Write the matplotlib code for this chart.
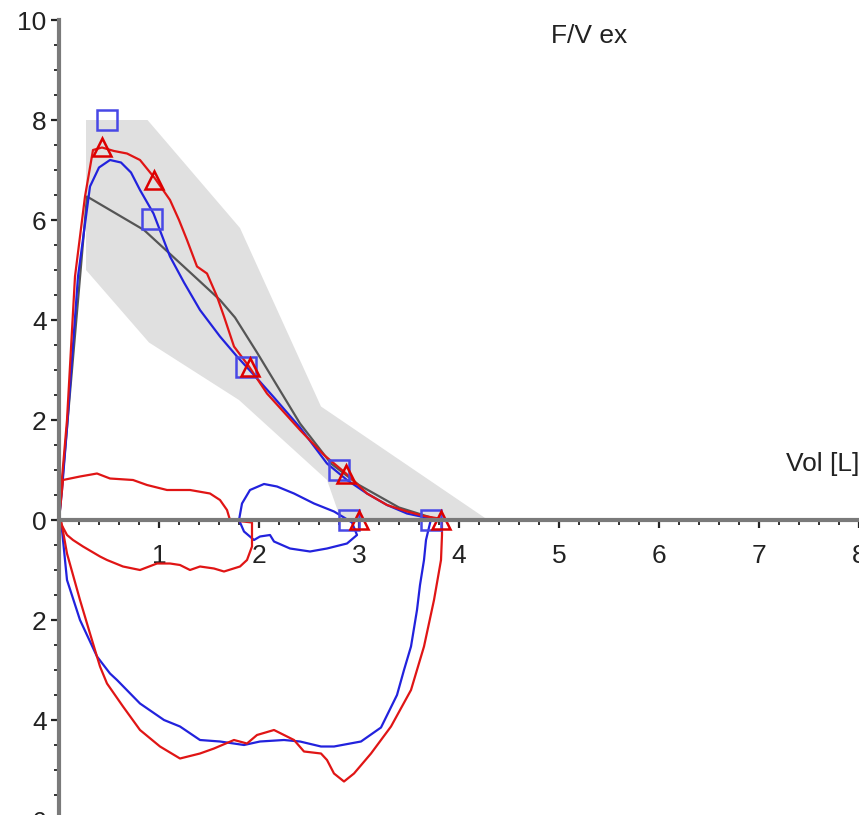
import numpy as np
import matplotlib
matplotlib.use('Agg')
import matplotlib.pyplot as plt
from matplotlib.ticker import MultipleLocator, FuncFormatter

plt.rcParams['font.family'] = ['Liberation Sans', 'DejaVu Sans']

# Banda de valores normales (borde superior e inferior)
banda_sup_x = [0.27, 0.27, 0.885, 1.81, 2.62, 4.29]
banda_sup_y = [5.0, 8.0, 8.0, 5.84, 2.27, 0.0]
banda_inf_x = [0.27, 0.9, 1.8, 2.68, 2.82]
banda_inf_y = [5.0, 3.55, 2.4, 0.8, 0.0]

# Curva predicha
pred_x = [0, 0.28, 0.85, 1.41, 1.61, 1.76, 1.98, 2.41, 2.72, 3.0, 3.4, 3.8]
pred_y = [0, 6.47, 5.8, 4.77, 4.4, 4.05, 3.35, 1.93, 1.13, 0.7, 0.25, 0.0]

# Curva azul (espiración + inspiración)
azul_x = [0, 0.03, 0.08, 0.19, 0.31, 0.40, 0.51, 0.62, 0.72, 0.81, 0.945, 1.11, 1.25, 1.41,
          1.61, 1.78, 1.95, 2.15, 2.41, 2.68, 2.88, 3.08, 3.28, 3.48, 3.62, 3.72,
          3.67, 3.65, 3.61, 3.58, 3.52, 3.45, 3.38, 3.22, 3.02, 2.75, 2.62, 2.41, 2.25,
          2.01, 1.85, 1.61, 1.41, 1.21, 1.05, 0.81, 0.58, 0.51, 0.38, 0.21, 0.08, 0.03, 0]
azul_y = [0, 0.6, 1.84, 4.87, 6.67, 7.05, 7.2, 7.15, 6.95, 6.6, 6.13, 5.27, 4.75, 4.2,
          3.67, 3.27, 2.9, 2.45, 1.85, 1.13, 0.8, 0.53, 0.3, 0.13, 0.07, 0.02,
          -0.4, -0.8, -1.3, -1.8, -2.53, -3.0, -3.5, -4.15, -4.43, -4.53, -4.53, -4.43, -4.4,
          -4.43, -4.5, -4.43, -4.4, -4.13, -4.0, -3.67, -3.2, -3.07, -2.73, -2.0, -1.2, -0.2, 0]

# Curva roja (espiración + inspiración)
rojo_x = [0, 0.02, 0.08, 0.16, 0.26, 0.34, 0.43, 0.55, 0.68, 0.81, 0.96, 1.11, 1.2, 1.28,
          1.38, 1.48, 1.58, 1.65, 1.75, 1.90, 2.08, 2.41, 2.65, 2.87, 3.08, 3.28, 3.48, 3.65, 3.83,
          3.83, 3.82, 3.75, 3.65, 3.52, 3.32, 3.12, 2.95, 2.85, 2.75, 2.68, 2.62, 2.45, 2.35,
          2.15, 1.98, 1.88, 1.75, 1.55, 1.41, 1.21, 1.01, 0.81, 0.64, 0.48, 0.41, 0.31, 0.21,
          0.08, 0.02]
rojo_y = [0, 0.6, 2.0, 4.87, 6.47, 7.4, 7.45, 7.38, 7.33, 7.2, 6.83, 6.4, 6.0, 5.6,
          5.07, 4.93, 4.47, 4.07, 3.47, 3.07, 2.53, 1.8, 1.3, 0.93, 0.53, 0.3, 0.17, 0.08, 0.02,
          -0.3, -0.8, -1.6, -2.53, -3.4, -4.13, -4.67, -5.07, -5.23, -5.07, -4.8, -4.67, -4.63, -4.4,
          -4.2, -4.3, -4.47, -4.4, -4.57, -4.67, -4.77, -4.53, -4.2, -3.73, -3.27, -2.93, -2.27, -1.6,
          -0.67, 0]

# Bucles de volumen corriente
rojo_vc_x = [0, 0.02, 0.04, 0.21, 0.38, 0.51, 0.74, 0.88, 1.08, 1.31, 1.51, 1.61, 1.68, 1.71,
             1.8, 1.93, 1.93, 1.88, 1.81, 1.65, 1.55, 1.41, 1.31, 1.21, 1.11, 0.98, 0.81,
             0.64, 0.48, 0.41, 0.24, 0.14, 0.08, 0]
rojo_vc_y = [0, 0.4, 0.8, 0.87, 0.93, 0.83, 0.8, 0.7, 0.6, 0.6, 0.53, 0.4, 0.2, 0.0,
             -0.02, -0.05, -0.53, -0.8, -0.93, -1.03, -0.97, -0.93, -1.0, -0.9, -0.87, -0.87, -1.0,
             -0.93, -0.8, -0.73, -0.53, -0.4, -0.3, 0]
azul_vc_x = [1.80, 1.83, 1.91, 2.05, 2.18, 2.35, 2.55, 2.75, 2.85, 2.93, 2.98, 2.88, 2.68,
             2.51, 2.31, 2.15, 2.11, 2.01, 1.95, 1.85, 1.80]
azul_vc_y = [0, 0.33, 0.6, 0.72, 0.67, 0.53, 0.33, 0.17, 0.05, -0.05, -0.3, -0.47, -0.57,
             -0.63, -0.57, -0.43, -0.3, -0.33, -0.4, -0.23, 0]

# Marcadores
cuad_x = [0.48, 0.93, 1.87, 2.80, 2.90, 3.72]
cuad_y = [8.0, 6.03, 3.07, 1.01, 0.0, 0.0]
tri_x = [0.43, 0.95, 1.91, 2.87, 3.0, 3.82]
tri_y = [7.47, 6.8, 3.07, 0.93, 0.0, 0.0]

AZUL = '#2222dd'
ROJO = '#e01515'

fig = plt.figure(figsize=(8.59, 8.15), dpi=100)
ax = fig.add_axes([59 / 859, -5 / 815, 800 / 859, 800 / 815])

poly_x = banda_sup_x + banda_inf_x[::-1]
poly_y = banda_sup_y + banda_inf_y[::-1]
ax.fill(poly_x, poly_y, color='#e0e0e0', lw=0, zorder=1)

ax.plot(pred_x, pred_y, color='#555555', lw=1.6, zorder=2)
ax.plot(azul_x, azul_y, color=AZUL, lw=1.6, zorder=3)
ax.plot(azul_vc_x, azul_vc_y, color=AZUL, lw=1.6, zorder=3)
ax.plot(rojo_x, rojo_y, color=ROJO, lw=1.6, zorder=3)
ax.plot(rojo_vc_x, rojo_vc_y, color=ROJO, lw=1.6, zorder=3)

ax.plot(cuad_x, cuad_y, ls='none', marker='s', ms=14.5, mfc='none', mec='#4848e6', mew=1.8, zorder=4)
ax.plot(tri_x, tri_y, ls='none', marker='^', ms=13, mfc='none', mec='#dd0000', mew=1.8, zorder=4)

ax.set_xlim(0, 8.0)
ax.set_ylim(-6, 10)

ax.spines['top'].set_visible(False)
ax.spines['right'].set_visible(False)
ax.spines['bottom'].set_position(('data', 0))
for s in ['left', 'bottom']:
    ax.spines[s].set_color('#7a7a7a')
    ax.spines[s].set_linewidth(3)
    ax.spines[s].set_zorder(5)

ax.xaxis.set_major_locator(MultipleLocator(1))
ax.xaxis.set_minor_locator(MultipleLocator(0.2))
ax.yaxis.set_major_locator(MultipleLocator(2))
ax.yaxis.set_minor_locator(MultipleLocator(0.5))

ax.xaxis.set_major_formatter(FuncFormatter(lambda v, p: '' if abs(v) < 1e-9 else f'{abs(v):.0f}'))
ax.yaxis.set_major_formatter(FuncFormatter(lambda v, p: f'{abs(v):.0f}'))

ax.tick_params(axis='both', which='major', direction='out', length=6, width=1.6, color='#222222',
               labelsize=19, labelcolor='#222222')
ax.tick_params(axis='both', which='minor', direction='out', length=3.5, width=1.4, color='#333333')
ax.tick_params(axis='x', which='major', pad=11)
ax.tick_params(axis='y', which='major', pad=3)

ax.text(8.0, 0.98, 'Vol [L]', ha='right', va='baseline', fontsize=19, color='#222222')
ax.text(4.92, 9.54, 'F/V ex', ha='left', va='baseline', fontsize=19, color='#222222')

fig.savefig('out.png', dpi=100)
